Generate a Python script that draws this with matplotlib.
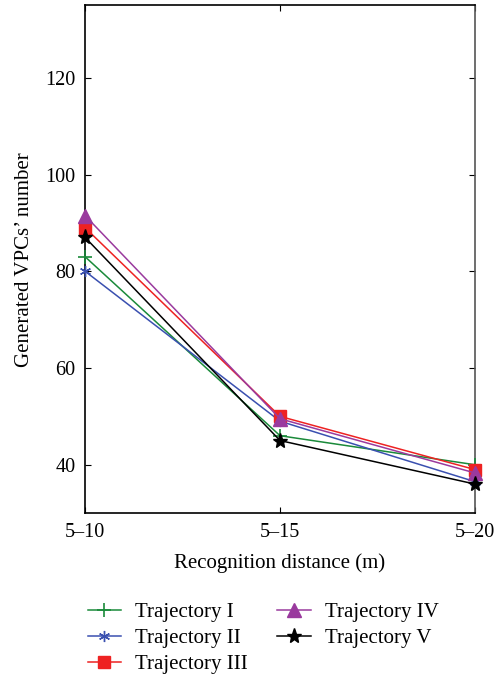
import matplotlib
matplotlib.use("Agg")
import matplotlib.pyplot as plt

plt.rcParams['font.family'] = ['Liberation Serif', 'DejaVu Serif']

categories = ['5\u201310', '5\u201315', '5\u201320']
traj_1 = [83, 46, 40]
traj_2 = [80, 49, 36.5]
traj_3 = [89, 50, 39]
traj_4 = [91.5, 49.5, 38.3]
traj_5 = [87, 45, 36]
labels = ['Trajectory I', 'Trajectory II', 'Trajectory III', 'Trajectory IV', 'Trajectory V']
yticks = [40, 60, 80, 100, 120]

fig = plt.figure(figsize=(5.01, 6.76), dpi=100)
ax = fig.add_axes([0.170, 0.241, 0.778, 0.751])

x = range(len(categories))
style = dict(lw=1.1, clip_on=False, zorder=3)
ax.plot(x, traj_1, color='#1a8a3a', marker='+', ms=10, mew=1.2, label=labels[0], **style)
ax.plot(x, traj_2, color='#3a50b0', marker=(6, 2, 0), ms=8, mew=1.0, label=labels[1], **style)
ax.plot(x, traj_3, color='#ee2222', marker='s', ms=8, label=labels[2], **style)
ax.plot(x, traj_4, color='#9a3a9e', marker='^', ms=10, label=labels[3], **style)
ax.plot(x, traj_5, color='black', marker='*', ms=11, label=labels[4], **style)

ax.set_xlim(0, 2)
ax.set_ylim(30, 135)
ax.set_xticks(list(x))
ax.set_xticklabels(categories)
ax.set_yticks(yticks)
ax.tick_params(direction='in', top=True, right=True, labelsize=14.5, length=4, pad=7)
ax.set_xlabel('Recognition distance (m)', fontsize=15, labelpad=8)
ax.set_ylabel('Generated VPCs\u2019 number', fontsize=15, labelpad=8)
for s in ax.spines.values():
    s.set_linewidth(1.2)
ax.spines['right'].set_color('#555555')

ax.legend(loc='upper left', bbox_to_anchor=(-0.042, -0.14), ncol=2, frameon=False,
          fontsize=15, handlelength=1.6, columnspacing=1.4, labelspacing=0.3,
          handletextpad=0.7)

fig.savefig('out.png', dpi=100)
